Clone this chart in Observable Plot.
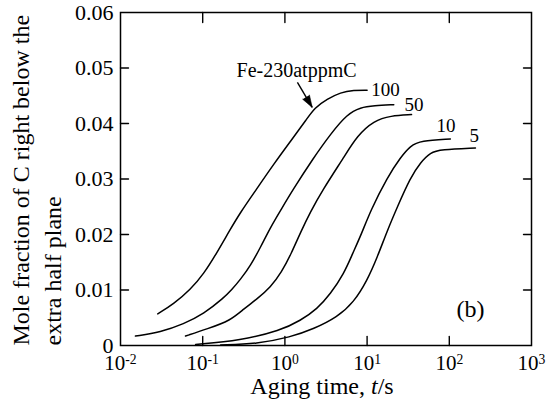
<!DOCTYPE html>
<html>
<head>
<meta charset="utf-8">
<script src="https://cdn.jsdelivr.net/npm/d3@7"></script>
<script src="https://cdn.jsdelivr.net/npm/@observablehq/plot@0.6"></script>
<style>
  html, body { margin: 0; padding: 0; background: #fff; }
  #chart svg, #chart svg text, #chart svg tspan { font-family: "Liberation Serif", "Times New Roman", serif !important; }
</style>
</head>
<body>
<div id="chart"></div>
<script>
// ---- Data ----
const series = ["230", "100", "50", "10", "5"];

const t230 = [0.0284, 0.0445, 0.0711, 0.103, 0.150, 0.212, 0.288, 0.439, 0.733, 1.17, 1.87, 2.29, 3.27, 4.75, 6.89, 10.0];
const y230 = [0.0057, 0.0075, 0.0101, 0.0129, 0.0168, 0.0207, 0.0240, 0.0279, 0.0327, 0.0368, 0.0409, 0.0428, 0.0444, 0.0456, 0.0460, 0.0460];

const t100 = [0.0152, 0.0307, 0.0589, 0.103, 0.181, 0.224, 0.288, 0.382, 0.505, 0.668, 0.883, 1.23, 2.25, 3.59, 5.73, 8.32, 12.1, 21.1];
const y100 = [0.0017, 0.0024, 0.0039, 0.0057, 0.0086, 0.0100, 0.0119, 0.0144, 0.0177, 0.0213, 0.0243, 0.0279, 0.0339, 0.0381, 0.0417, 0.0429, 0.0432, 0.0434];

const t50 = [0.0618, 0.114, 0.218, 0.316, 0.460, 0.668, 0.910, 1.20, 1.55, 2.05, 2.84, 5.21, 7.58, 12.1, 19.3, 34.7];
const y50 = [0.0017, 0.0030, 0.0045, 0.0066, 0.0084, 0.0105, 0.0132, 0.0166, 0.0204, 0.0241, 0.0279, 0.0339, 0.0378, 0.0405, 0.0414, 0.0416];

const t10 = [0.082, 0.288, 0.883, 1.55, 2.47, 3.59, 5.21, 6.64, 8.55, 11.0, 17.6, 25.5, 33.7, 44.7, 103];
const y10 = [0.0002, 0.0009, 0.0027, 0.0045, 0.0066, 0.0093, 0.0129, 0.0165, 0.0201, 0.0243, 0.0303, 0.0339, 0.0360, 0.0369, 0.0372];

const t5 = [0.165, 0.460, 1.17, 2.25, 4.33, 6.89, 10.0, 13.3, 17.6, 23.2, 33.7, 44.7, 59.0, 78.2, 208];
const y5 = [0.0001, 0.0003, 0.0015, 0.0030, 0.0051, 0.0078, 0.0117, 0.0159, 0.0207, 0.0249, 0.0303, 0.0330, 0.0348, 0.0353, 0.0356];

// Curve labels
const labelText = ["Fe-230atppmC", "100", "50", "10", "5"];
const labelT = [0.258, 11.2, 28.5, 69.8, 176];
const labelY = [0.0483, 0.0450, 0.0423, 0.0384, 0.0366];
const labelSize = [20, 19, 19, 19, 19];

// Arrow from label to curve
const arrowT = [1.42, 2.15];
const arrowY = [0.0474, 0.0429];

// Panel tag
const tagText = "(b)";
const tagT = 181;
const tagY = 0.0052;

// Ticks
const xTicks = [0.01, 0.1, 1, 10, 100, 1000];
const xTickExp = ["-2", "-1", "0", "1", "2", "3"];
const xInnerTicks = [0.1, 1, 10, 100];
const yTicks = [0, 0.01, 0.02, 0.03, 0.04, 0.05, 0.06];
const yTickLabels = ["0", "0.01", "0.02", "0.03", "0.04", "0.05", "0.06"];
const yInnerTicks = [0.01, 0.02, 0.03, 0.04, 0.05];

const xLabel = "Aging time, t/s";
const yLabel = "Mole fraction of C right below the\nextra half plane";

// ---- Build table ----
const ts = [t230, t100, t50, t10, t5];
const ys = [y230, y100, y50, y10, y5];
const rows = [];
series.forEach((s, i) => ts[i].forEach((t, j) => rows.push({series: s, t, v: ys[i][j]})));
const labels = labelText.map((text, i) => ({text, t: labelT[i], v: labelY[i], size: labelSize[i]}));

const FONT = "Liberation Serif, Times New Roman, serif";
const tickShape = { draw(context, l) { context.moveTo(0, 0); context.lineTo(0, -l); } };
const tickBase = {shape: tickShape, anchor: "start", stroke: "black", strokeWidth: 1.4};

const chart = Plot.plot({
  width: 556,
  height: 403,
  marginLeft: 120,
  marginRight: 25,
  marginTop: 12,
  marginBottom: 58,
  style: {fontFamily: FONT, fontSize: "21px", background: "white", color: "black"},
  x: {type: "log", domain: [1e-2, 1e3]},
  y: {domain: [0, 0.06]},
  marks: [
    Plot.line(rows, {x: "t", y: "v", z: "series", curve: "basis", stroke: "black", strokeWidth: 1.5}),
    Plot.frame({stroke: "black", strokeWidth: 1.5}),
    Plot.vector(xInnerTicks, {x: d => d, frameAnchor: "bottom", rotate: 0, length: 9, ...tickBase}),
    Plot.vector(xInnerTicks, {x: d => d, frameAnchor: "top", rotate: 180, length: 10, ...tickBase}),
    Plot.vector(yInnerTicks, {y: d => d, frameAnchor: "left", rotate: 90, length: 8, ...tickBase}),
    Plot.vector(yInnerTicks, {y: d => d, frameAnchor: "right", rotate: -90, length: 8, ...tickBase}),
    Plot.axisX({ticks: xTicks, tickSize: 0, tickPadding: 10, fontSize: 21, fontFamily: FONT, label: null,
      tickFormat: d => "10|" + xTickExp[xTicks.indexOf(d)]}),
    Plot.axisY({ticks: yTicks, tickSize: 0, tickPadding: 7, fontSize: 22, fontFamily: FONT, label: null,
      tickFormat: d => yTickLabels[yTicks.indexOf(d)]}),
    Plot.text(labels, {x: "t", y: "v", text: "text", fontSize: "size", fontFamily: FONT, textAnchor: "start", lineAnchor: "bottom", fill: "black"}),
    Plot.link([0], {x1: () => arrowT[0], y1: () => arrowY[0], x2: () => arrowT[1], y2: () => arrowY[1], stroke: "black", strokeWidth: 1.4}),
    Plot.vector([0], {x: () => arrowT[1], y: () => arrowY[1], anchor: "end", shape: "spike", length: 12, r: 4, rotate: 149, fill: "black", stroke: "black", strokeWidth: 0.5}),
    Plot.text([tagText], {x: () => tagT, y: () => tagY, text: d => d, fontSize: 24, fontFamily: FONT, textAnchor: "middle", lineAnchor: "bottom", fill: "black"}),
    Plot.text([xLabel], {frameAnchor: "bottom", text: d => d, dx: -4, dy: 48, fontSize: 24, fontFamily: FONT, lineAnchor: "bottom", fill: "black"}),
    Plot.text([yLabel], {frameAnchor: "bottom-left", text: d => d, rotate: -90, dx: -60, fontSize: 24, fontFamily: FONT, lineHeight: 1.33, textAnchor: "start", lineAnchor: "bottom", fill: "black"})
  ]
});

// Superscript exponents on x tick labels; italic t in the x label
chart.querySelectorAll("text").forEach(el => {
  const s = el.textContent;
  if (/^10\|/.test(s) && el.children.length === 0) {
    const exp = s.split("|")[1];
    el.textContent = "10";
    const sup = document.createElementNS("http://www.w3.org/2000/svg", "tspan");
    sup.setAttribute("dy", "-0.45em");
    sup.setAttribute("font-size", "0.65em");
    sup.textContent = exp;
    el.appendChild(sup);
  } else if (s === xLabel && el.children.length === 0) {
    el.textContent = "Aging time, ";
    const it = document.createElementNS("http://www.w3.org/2000/svg", "tspan");
    it.setAttribute("font-style", "italic");
    it.textContent = "t";
    el.appendChild(it);
    el.appendChild(document.createTextNode("/s"));
  }
});

document.getElementById("chart").appendChild(chart);
</script>
</body>
</html>
